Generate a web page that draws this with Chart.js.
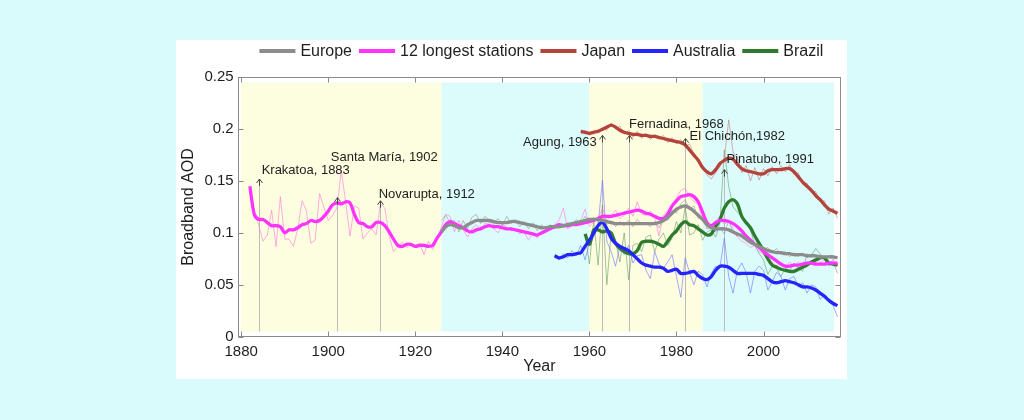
<!DOCTYPE html>
<html>
<head>
<meta charset="utf-8">
<script src="https://cdn.jsdelivr.net/npm/chart.js@4.4.1/dist/chart.umd.min.js"></script>
<style>
  html, body { margin: 0; padding: 0; background: #d9fbfb; }
  body { width: 1024px; height: 420px; position: relative; overflow: hidden; }
  #card { position: absolute; left: 176px; top: 40px; width: 671px; height: 339px; background: #fff; }
</style>
</head>
<body>
<div id="card"><canvas id="aod"></canvas></div>
<script>
// yearly broadband AOD, raw and smoothed
const longStart = 1882;
const longRaw = [
  0.145, 0.120, 0.108, 0.092, 0.098, 0.122, 0.087, 0.135,
  0.094, 0.094, 0.087, 0.104, 0.131, 0.121, 0.090, 0.093, 0.138, 0.125,
  0.112, 0.117, 0.124, 0.160, 0.130, 0.097, 0.126, 0.124, 0.094, 0.100,
  0.104, 0.098, 0.128, 0.124, 0.097, 0.082, 0.087, 0.091, 0.086, 0.089,
  0.088, 0.090, 0.079, 0.092, 0.084, 0.094, 0.106, 0.118, 0.116, 0.101,
  0.112, 0.103, 0.096, 0.104, 0.108, 0.102, 0.109, 0.110, 0.104, 0.100,
  0.108, 0.106, 0.102, 0.104, 0.099, 0.101, 0.093, 0.100, 0.095, 0.102,
  0.100, 0.106, 0.108, 0.112, 0.124, 0.104, 0.107, 0.109, 0.112, 0.123,
  0.106, 0.111, 0.114, 0.124, 0.112, 0.116, 0.122, 0.114, 0.117, 0.124,
  0.116, 0.130, 0.118, 0.117, 0.121, 0.114, 0.097, 0.117, 0.122, 0.127,
  0.134, 0.141, 0.143, 0.135, 0.130, 0.128, 0.112, 0.106, 0.104, 0.112,
  0.116, 0.108, 0.112, 0.104, 0.096, 0.092, 0.090, 0.086, 0.088, 0.082,
  0.079, 0.076, 0.072, 0.068, 0.072, 0.067, 0.072, 0.068, 0.072, 0.067,
  0.072, 0.070, 0.077, 0.071, 0.074, 0.069, 0.074, 0.068
];
const longSmooth = [
  0.145, 0.118, 0.113, 0.113, 0.110, 0.107, 0.107, 0.106,
  0.100, 0.103, 0.103, 0.105, 0.108, 0.109, 0.112, 0.111, 0.112, 0.116,
  0.121, 0.127, 0.129, 0.128, 0.130, 0.129, 0.118, 0.110, 0.109, 0.106,
  0.106, 0.110, 0.110, 0.107, 0.101, 0.094, 0.088, 0.087, 0.089, 0.089,
  0.087, 0.088, 0.088, 0.087, 0.088, 0.095, 0.101, 0.108, 0.111, 0.109,
  0.107, 0.105, 0.102, 0.101, 0.103, 0.104, 0.106, 0.107, 0.106, 0.106,
  0.105, 0.104, 0.104, 0.103, 0.102, 0.101, 0.100, 0.099, 0.098, 0.100,
  0.102, 0.104, 0.106, 0.108, 0.107, 0.107, 0.108, 0.108, 0.109, 0.110,
  0.111, 0.112, 0.114, 0.116, 0.116, 0.116, 0.117, 0.118, 0.119, 0.120,
  0.121, 0.122, 0.121, 0.119, 0.118, 0.116, 0.114, 0.114, 0.118, 0.126,
  0.131, 0.135, 0.136, 0.137, 0.135, 0.130, 0.120, 0.110, 0.107, 0.110,
  0.112, 0.112, 0.111, 0.109, 0.106, 0.102, 0.097, 0.093, 0.089, 0.086,
  0.082, 0.079, 0.076, 0.073, 0.070, 0.068, 0.068, 0.069, 0.069, 0.070,
  0.071, 0.071, 0.070, 0.070, 0.070, 0.071, 0.071, 0.071
];

const euroStart = 1926;
const euroRaw = [
  0.112, 0.117, 0.110, 0.112,
  0.101, 0.112, 0.104, 0.115, 0.118, 0.109, 0.116, 0.112, 0.108, 0.114,
  0.107, 0.116, 0.109, 0.113, 0.106, 0.111, 0.104, 0.110, 0.102, 0.108,
  0.103, 0.108, 0.104, 0.109, 0.105, 0.110, 0.107, 0.113, 0.109, 0.116,
  0.111, 0.115, 0.110, 0.118, 0.108, 0.112, 0.106, 0.111, 0.107, 0.112,
  0.106, 0.113, 0.108, 0.110, 0.106, 0.111, 0.105, 0.114, 0.112, 0.122,
  0.119, 0.128, 0.132, 0.123, 0.126, 0.114, 0.117, 0.104, 0.106, 0.101,
  0.105, 0.099, 0.112, 0.100, 0.097, 0.100, 0.093, 0.095, 0.088, 0.090,
  0.084, 0.086, 0.081, 0.085, 0.079, 0.082, 0.077, 0.081, 0.078, 0.080,
  0.076, 0.080, 0.077, 0.079, 0.075, 0.078, 0.074, 0.077
];
const euroSmooth = [
  0.101, 0.106, 0.108, 0.107,
  0.105, 0.105, 0.108, 0.110, 0.112, 0.112, 0.112, 0.112, 0.111, 0.110,
  0.110, 0.110, 0.111, 0.111, 0.110, 0.109, 0.108, 0.107, 0.106, 0.105,
  0.105, 0.106, 0.106, 0.106, 0.107, 0.108, 0.109, 0.110, 0.111, 0.112,
  0.113, 0.113, 0.113, 0.112, 0.111, 0.110, 0.109, 0.109, 0.109, 0.109,
  0.109, 0.109, 0.109, 0.109, 0.109, 0.109, 0.110, 0.112, 0.115, 0.119,
  0.123, 0.125, 0.126, 0.124, 0.121, 0.117, 0.113, 0.108, 0.105, 0.104,
  0.104, 0.104, 0.103, 0.101, 0.099, 0.097, 0.094, 0.091, 0.089, 0.087,
  0.085, 0.083, 0.082, 0.081, 0.081, 0.080, 0.080, 0.079, 0.079, 0.079,
  0.078, 0.078, 0.078, 0.077, 0.077, 0.077, 0.077, 0.076
];

const japanStart = 1958;
const japanRaw = [
  0.195, 0.199,
  0.194, 0.199, 0.196, 0.201, 0.199, 0.206, 0.200, 0.203, 0.195, 0.199,
  0.192, 0.198, 0.191, 0.196, 0.190, 0.195, 0.190, 0.194, 0.187, 0.192,
  0.186, 0.190, 0.182, 0.186, 0.176, 0.172, 0.162, 0.156, 0.152, 0.158,
  0.164, 0.172, 0.209, 0.178, 0.172, 0.158, 0.165, 0.150, 0.163, 0.151,
  0.162, 0.155, 0.164, 0.157, 0.165, 0.159, 0.166, 0.156, 0.158, 0.147,
  0.148, 0.139, 0.140, 0.130, 0.131, 0.118, 0.124, 0.114
];
const japanSmooth = [
  0.198, 0.197,
  0.196, 0.197, 0.198, 0.200, 0.202, 0.204, 0.202, 0.199, 0.197, 0.196,
  0.195, 0.195, 0.194, 0.194, 0.193, 0.193, 0.192, 0.191, 0.190, 0.189,
  0.188, 0.187, 0.185, 0.180, 0.175, 0.170, 0.163, 0.159, 0.157, 0.161,
  0.167, 0.170, 0.172, 0.171, 0.166, 0.162, 0.160, 0.159, 0.158, 0.157,
  0.157, 0.160, 0.161, 0.161, 0.161, 0.162, 0.162, 0.159, 0.154, 0.149,
  0.145, 0.141, 0.136, 0.132, 0.127, 0.123, 0.121, 0.119
];

const ausStart = 1952;
const ausRaw = [
  0.078, 0.074, 0.080, 0.076, 0.083, 0.078, 0.088, 0.074,
  0.090, 0.096, 0.108, 0.151, 0.092, 0.082, 0.068, 0.087, 0.079, 0.088,
  0.071, 0.078, 0.079, 0.064, 0.056, 0.082, 0.070, 0.066, 0.072, 0.079,
  0.058, 0.038, 0.076, 0.062, 0.050, 0.063, 0.060, 0.048, 0.061, 0.068,
  0.067, 0.095, 0.058, 0.042, 0.064, 0.071, 0.062, 0.042, 0.063, 0.068,
  0.064, 0.045, 0.053, 0.062, 0.058, 0.045, 0.056, 0.058, 0.048, 0.052,
  0.042, 0.050, 0.048, 0.036, 0.040, 0.034, 0.030, 0.019
];
const ausSmooth = [
  0.078, 0.076, 0.077, 0.079, 0.079, 0.080, 0.081, 0.087,
  0.093, 0.100, 0.107, 0.110, 0.104, 0.095, 0.090, 0.087, 0.085, 0.083,
  0.079, 0.075, 0.071, 0.069, 0.068, 0.067, 0.067, 0.066, 0.063, 0.064,
  0.065, 0.061, 0.061, 0.062, 0.063, 0.059, 0.056, 0.055, 0.058, 0.064,
  0.068, 0.068, 0.067, 0.064, 0.061, 0.061, 0.061, 0.061, 0.061, 0.060,
  0.059, 0.056, 0.053, 0.052, 0.053, 0.054, 0.053, 0.052, 0.050, 0.048,
  0.048, 0.047, 0.045, 0.042, 0.039, 0.035, 0.032, 0.030
];

const brazilStart = 1959;
const brazilRaw = [
  0.099,
  0.070, 0.112, 0.069, 0.127, 0.050, 0.100, 0.092, 0.072, 0.100, 0.055,
  0.088, 0.090, 0.082, 0.096, 0.098, 0.082, 0.094, 0.100, 0.088, 0.095,
  0.111, 0.100, 0.125, 0.098, 0.100, 0.108, 0.093, 0.101, 0.103, 0.096,
  0.110, 0.180, 0.145, 0.125, 0.120, 0.116, 0.110, 0.103, 0.088, 0.080,
  0.074, 0.060, 0.068, 0.066, 0.058, 0.066, 0.064, 0.071, 0.066, 0.063,
  0.080, 0.078, 0.085, 0.080, 0.074, 0.068, 0.072, 0.061
];
const brazilSmooth = [
  0.099,
  0.089, 0.103, 0.103, 0.101, 0.102, 0.100, 0.090, 0.085, 0.082, 0.080,
  0.080, 0.083, 0.091, 0.092, 0.092, 0.091, 0.089, 0.087, 0.092, 0.098,
  0.102, 0.108, 0.111, 0.108, 0.107, 0.104, 0.101, 0.098, 0.099, 0.106,
  0.113, 0.124, 0.130, 0.132, 0.128, 0.116, 0.110, 0.105, 0.097, 0.090,
  0.083, 0.075, 0.069, 0.067, 0.065, 0.064, 0.063, 0.063, 0.065, 0.067,
  0.069, 0.072, 0.074, 0.076, 0.076, 0.071, 0.070, 0.069
];

// eruptions: where the stem stands and how high the arrow reaches
const volcanoNames = ['Krakatoa, 1883', 'Santa María, 1902', 'Novarupta, 1912', 'Agung, 1963',
                      'Fernadina, 1968', 'El Chichón,1982', 'Pinatubo, 1991'];
const volcanoYears = [1884, 1902, 1912, 1963, 1969, 1982, 1991];
const volcanoPeaks = [0.152, 0.134, 0.131, 0.194, 0.194, 0.191, 0.161];
const labelYears  = [1884.7, 1900.6, 1911.6, 1961.7, 1969.1, 1983.0, 1991.5];
const labelValues = [0.160, 0.173, 0.1375, 0.187, 0.205, 0.193, 0.171];
const labelAlign  = ['left', 'left', 'left', 'right', 'left', 'left', 'left'];

// shaded periods
const bandStarts = [1880, 1926, 1960, 1986];
const bandEnds   = [1926, 1960, 1986, 2016.2];
const bandColors = ['#fdfde0', '#dcfcfc', '#fdfde0', '#dcfcfc'];
const bandLow = 0.005, bandHigh = 0.245;

const xTicks = [1880, 1900, 1920, 1940, 1960, 1980, 2000];
const xTickLabels = ['1880', '1900', '1920', '1940', '1960', '1980', '2000'];
const yTicks = [0, 0.05, 0.1, 0.15, 0.2, 0.25];
const yTickLabels = ['0', '0.05', '0.1', '0.15', '0.2', '0.25'];

const seriesNames = ['Europe', '12 longest stations', 'Japan', 'Australia', 'Brazil'];
const smoothColors = ['#8c8c8c', '#ff33ff', '#b3433c', '#2424ff', '#2e7a2e'];
const rawColors = ['rgba(150,150,150,0.6)', 'rgba(255,120,220,0.6)', 'rgba(190,110,110,0.55)',
                   'rgba(110,110,255,0.6)', 'rgba(90,150,90,0.55)'];

const FONT = '"Liberation Sans", Arial, Helvetica, sans-serif';

function toPoints(start, values) {
  return values.map((v, i) => ({ x: start + i, y: v }));
}

const series = [
  [euroStart, euroRaw, euroSmooth],
  [longStart, longRaw, longSmooth],
  [japanStart, japanRaw, japanSmooth],
  [ausStart, ausRaw, ausSmooth],
  [brazilStart, brazilRaw, brazilSmooth]
];

const datasets = [];
series.forEach((s, i) => {
  datasets.push({
    label: seriesNames[i],
    data: toPoints(s[0], s[2]),
    borderColor: smoothColors[i],
    borderWidth: 3.3,
    pointRadius: 0,
    tension: 0.3,
    order: 1
  });
});
series.forEach((s, i) => {
  datasets.push({
    label: seriesNames[i] + ' (yearly)',
    data: toPoints(s[0], s[1]),
    borderColor: rawColors[i],
    borderWidth: 1,
    pointRadius: 0,
    tension: 0,
    order: 2
  });
});

const backdrop = {
  id: 'backdrop',
  beforeDatasetsDraw(chart) {
    const { ctx, scales: { x, y } } = chart;
    ctx.save();
    bandStarts.forEach((s, i) => {
      const x0 = x.getPixelForValue(s), x1 = x.getPixelForValue(bandEnds[i]);
      const y0 = y.getPixelForValue(bandHigh), y1 = y.getPixelForValue(bandLow);
      ctx.fillStyle = bandColors[i];
      ctx.fillRect(x0, y0, x1 - x0, y1 - y0);
    });
    ctx.strokeStyle = '#bcbcbc';
    ctx.lineWidth = 1;
    volcanoYears.forEach((v, i) => {
      const px = Math.round(x.getPixelForValue(v)) + 0.5;
      ctx.beginPath();
      ctx.moveTo(px, y.getPixelForValue(bandLow));
      ctx.lineTo(px, y.getPixelForValue(volcanoPeaks[i]) + 6);
      ctx.stroke();
    });
    ctx.restore();
  }
};

const overlay = {
  id: 'overlay',
  afterDatasetsDraw(chart) {
    const { ctx, chartArea: a, scales: { x, y } } = chart;
    ctx.save();

    // arrows and eruption labels
    ctx.strokeStyle = '#444';
    ctx.lineWidth = 1;
    volcanoYears.forEach((v, i) => {
      const px = Math.round(x.getPixelForValue(v)) + 0.5;
      const py = y.getPixelForValue(volcanoPeaks[i]);
      ctx.beginPath();
      ctx.moveTo(px, py + 7);
      ctx.lineTo(px, py);
      ctx.moveTo(px - 3, py + 4);
      ctx.lineTo(px, py);
      ctx.lineTo(px + 3, py + 4);
      ctx.stroke();
    });
    ctx.fillStyle = '#1e1e1e';
    ctx.font = '13px ' + FONT;
    ctx.textBaseline = 'middle';
    volcanoNames.forEach((n, i) => {
      ctx.textAlign = labelAlign[i];
      ctx.fillText(n, x.getPixelForValue(labelYears[i]), y.getPixelForValue(labelValues[i]));
    });

    // axes box with inward ticks
    ctx.strokeStyle = '#8a8a8a';
    ctx.lineWidth = 1;
    const L = Math.round(a.left) + 0.5, R = Math.round(a.right) - 0.5;
    const T = Math.round(a.top) + 0.5, B = Math.round(a.bottom) - 0.5;
    ctx.strokeRect(L, T, R - L, B - T);
    ctx.beginPath();
    xTicks.forEach(v => {
      const px = Math.round(x.getPixelForValue(v)) + 0.5;
      ctx.moveTo(px, B); ctx.lineTo(px, B - 5);
      ctx.moveTo(px, T); ctx.lineTo(px, T + 5);
    });
    yTicks.forEach(v => {
      const py = Math.round(y.getPixelForValue(v)) + 0.5;
      ctx.moveTo(L, py); ctx.lineTo(L + 5, py);
      ctx.moveTo(R, py); ctx.lineTo(R - 5, py);
    });
    ctx.stroke();

    // legend row above the axes
    ctx.font = '16px ' + FONT;
    ctx.textAlign = 'left';
    const lineLen = 36, gapIn = 5, gapOut = 7;
    const widths = seriesNames.map(n => ctx.measureText(n).width);
    const total = widths.reduce((s, w) => s + lineLen + gapIn + w, 0) + gapOut * (seriesNames.length - 1);
    let cx = (a.left + a.right) / 2 + 2 - total / 2;
    const ly = 11;
    seriesNames.forEach((n, i) => {
      ctx.strokeStyle = smoothColors[i];
      ctx.lineWidth = 4;
      ctx.beginPath();
      ctx.moveTo(cx, ly);
      ctx.lineTo(cx + lineLen, ly);
      ctx.stroke();
      ctx.fillStyle = '#1e1e1e';
      ctx.fillText(n, cx + lineLen + gapIn, ly + 1);
      cx += lineLen + gapIn + widths[i] + gapOut;
    });
    ctx.restore();
  }
};

new Chart(document.getElementById('aod'), {
  type: 'line',
  data: { datasets },
  options: {
    responsive: true,
    maintainAspectRatio: false,
    animation: false,
    layout: { padding: { top: 37.3, right: 6, left: 0, bottom: 0 } },
    plugins: { legend: { display: false }, tooltip: { enabled: false } },
    scales: {
      x: {
        type: 'linear',
        min: 1879.2,
        max: 2017.8,
        afterBuildTicks: s => { s.ticks = xTicks.map(v => ({ value: v })); },
        afterFit: s => { s.height = 42.3; },
        grid: { display: false, drawTicks: false },
        border: { display: false },
        ticks: { color: '#1e1e1e', font: { size: 15, family: FONT }, padding: 6, maxRotation: 0, autoSkip: false,
                 callback: (v, i) => xTickLabels[i] },
        title: { display: true, text: 'Year', color: '#1e1e1e', font: { size: 16, family: FONT }, padding: { top: 0, bottom: 3 } }
      },
      y: {
        min: 0,
        max: 0.25,
        afterBuildTicks: s => { s.ticks = yTicks.map(v => ({ value: v })); },
        afterFit: s => { s.width = 61.7; },
        grid: { display: false, drawTicks: false },
        border: { display: false },
        ticks: { color: '#1e1e1e', font: { size: 15, family: FONT }, padding: 4, callback: (v, i) => yTickLabels[i] },
        title: { display: true, text: 'Broadband AOD', color: '#1e1e1e', font: { size: 16, family: FONT }, padding: { top: 3, bottom: 0 } }
      }
    }
  },
  plugins: [backdrop, overlay]
});
</script>
</body>
</html>
